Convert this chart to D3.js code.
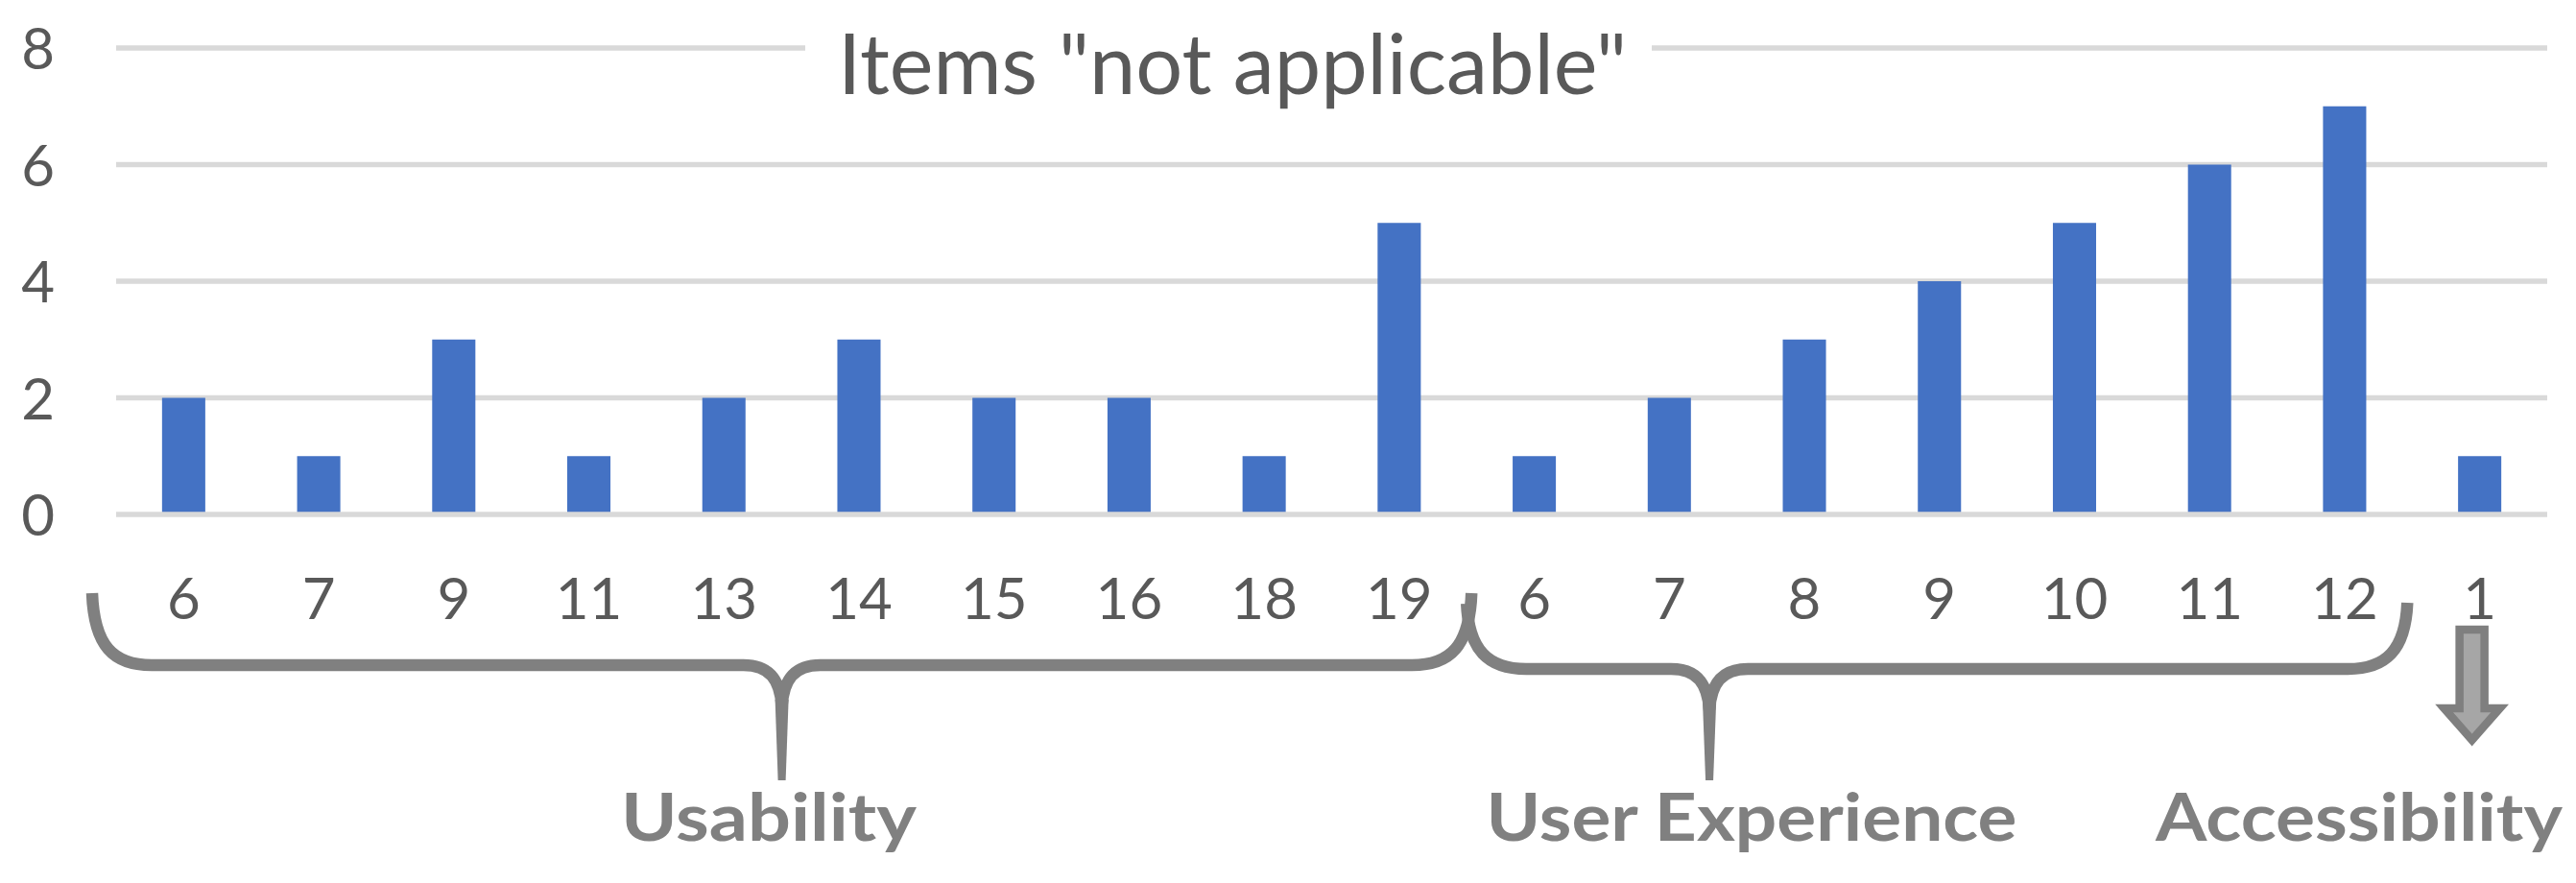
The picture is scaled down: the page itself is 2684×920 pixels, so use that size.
<!DOCTYPE html>
<html>
<head>
<meta charset="utf-8">
<script src="https://cdn.jsdelivr.net/npm/d3@7"></script>
<style>
  html, body { margin: 0; padding: 0; background: #ffffff; }
  svg { display: block; }
</style>
</head>
<body>
<svg id="chart" width="2684" height="920"></svg>
<script>
// ---- data ----
const categories = ["6","7","9","11","13","14","15","16","18","19","6","7","8","9","10","11","12","1"];
const values     = [2, 1, 3, 1, 2, 3, 2, 2, 1, 5, 1, 2, 3, 4, 5, 6, 7, 1];
const yTicks     = [0, 2, 4, 6, 8];
const groupNames = ["Usability", "User Experience", "Accessibility"];
const groupStart = [0, 10, 17];
const groupEnd   = [9, 16, 17];
const titleText  = 'Items "not applicable"';

(function () {
// ---- layout ----
const plotLeft = 121, plotRight = 2654, plotTop = 50, plotBottom = 536;
const svg = d3.select("#chart");
const keys = categories.map((c, i) => i);

const x = d3.scaleBand().domain(keys).range([plotLeft, plotRight]).paddingInner(0.68).paddingOuter(0.34);
const step = x.step();
const y = d3.scaleLinear().domain([0, 8]).range([plotBottom, plotTop]);

const gridColor = "#d9d9d9", textColor = "#595959", braceColor = "#808080";
const fontFam = "Lato, 'Open Sans', sans-serif";

// gridlines (non-zero)
svg.append("g").selectAll("line").data(yTicks.filter(d => d !== 0)).join("line")
  .attr("x1", plotLeft).attr("x2", plotRight)
  .attr("y1", d => y(d)).attr("y2", d => y(d))
  .attr("stroke", gridColor).attr("stroke-width", 5.5);

// bars
svg.append("g").selectAll("rect").data(values).join("rect")
  .attr("x", (d, i) => x(i))
  .attr("width", x.bandwidth())
  .attr("y", d => y(d))
  .attr("height", d => y(0) - y(d))
  .attr("fill", "#4472c4");

// zero line on top
svg.append("line").attr("x1", plotLeft).attr("x2", plotRight)
  .attr("y1", y(0)).attr("y2", y(0))
  .attr("stroke", gridColor).attr("stroke-width", 5.5);

// y axis labels
const yAxis = d3.axisLeft(y).tickValues(yTicks).tickSize(0).tickPadding(0).tickFormat(d3.format("d"));
const ya = svg.append("g").attr("transform", `translate(57,0)`).call(yAxis);
ya.select(".domain").remove();
ya.selectAll("text").attr("fill", textColor).attr("font-family", fontFam)
  .attr("font-size", 60).attr("font-weight", 400).attr("dy", "0.36em");

// x axis labels
const xAxis = d3.axisBottom(x).tickSize(0).tickPadding(0).tickFormat(i => categories[i]);
const xa = svg.append("g").attr("transform", `translate(0,645)`).call(xAxis);
xa.select(".domain").remove();
xa.selectAll("text").attr("fill", textColor).attr("font-family", fontFam)
  .attr("font-size", 60).attr("font-weight", 400).attr("dy", 0);

// title with white background gap over the top gridline
const titleX = 1284;
const tbg = svg.append("rect").attr("fill", "#ffffff");
svg.append("text").attr("x", titleX).attr("y", 98)
  .attr("text-anchor", "middle").attr("fill", textColor)
  .attr("font-family", fontFam).attr("font-weight", 400).attr("font-size", 88)
  .attr("textLength", 822).attr("lengthAdjust", "spacingAndGlyphs")
  .text(titleText);
tbg.attr("x", titleX - 411 - 34).attr("y", y(8) - 10).attr("width", 822 + 60).attr("height", 20);

// braces
function bracePath(x0, x1, xt, yTop0, yTop1, yh, yv) {
  const r = 62, rc = 40;
  return `M ${x0} ${yTop0} C ${x0 + 2} ${yh - 20}, ${x0 + 22} ${yh}, ${x0 + r} ${yh}` +
    ` L ${xt - rc} ${yh} C ${xt - 12} ${yh}, ${xt - 2} ${yh + 16}, ${xt} ${yv}` +
    ` C ${xt + 2} ${yh + 16}, ${xt + 12} ${yh}, ${xt + rc} ${yh}` +
    ` L ${x1 - r} ${yh} C ${x1 - 22} ${yh}, ${x1 - 2} ${yh - 20}, ${x1} ${yTop1}`;
}
const braces = [
  { x0: plotLeft - 25, x1: x(groupEnd[0]) + x.bandwidth() + step * 0.34 + 5, tip: 0.5, yT0: 618, yT1: 618, yh: 693 },
  { x0: x(groupStart[1]) - step * 0.34, x1: x(groupEnd[1]) + x.bandwidth() + step * 0.34 - 5, tip: 0.258, yT0: 629, yT1: 628, yh: 697 }
];
braces.forEach(b => {
  const xt = b.x0 + (b.x1 - b.x0) * b.tip;
  svg.append("path").attr("d", bracePath(b.x0, b.x1, xt, b.yT0, b.yT1, b.yh, b.yh + 42))
    .attr("fill", "none").attr("stroke", braceColor).attr("stroke-width", 12.5);
  svg.append("path")
    .attr("d", `M ${xt - 7} ${b.yh + 36} L ${xt + 7} ${b.yh + 36} L ${xt + 4} 813 L ${xt - 4} 813 Z`)
    .attr("fill", braceColor);
});

// arrow for single-item group
const ax = x(groupStart[2]) + x.bandwidth() / 2 - 8;
svg.append("path")
  .attr("d", `M ${ax - 13} 656 L ${ax + 13} 656 L ${ax + 13} 738 L ${ax + 29} 738 L ${ax} 771 L ${ax - 29} 738 L ${ax - 13} 738 Z`)
  .attr("fill", "#a6a6a6").attr("stroke", "#7f7f7f").attr("stroke-width", 8.5).attr("stroke-linejoin", "miter");

// group labels
const groupLabelX = [801, 1825, 2458];
const groupLabelW = [308, 553, 424];
svg.append("g").selectAll("text").data(groupNames).join("text")
  .attr("x", (d, i) => groupLabelX[i]).attr("y", 876)
  .attr("text-anchor", "middle").attr("fill", braceColor)
  .attr("font-family", fontFam).attr("font-weight", 700).attr("font-size", 68)
  .attr("textLength", (d, i) => groupLabelW[i]).attr("lengthAdjust", "spacingAndGlyphs")
  .text(d => d);
})();
</script>
</body>
</html>
